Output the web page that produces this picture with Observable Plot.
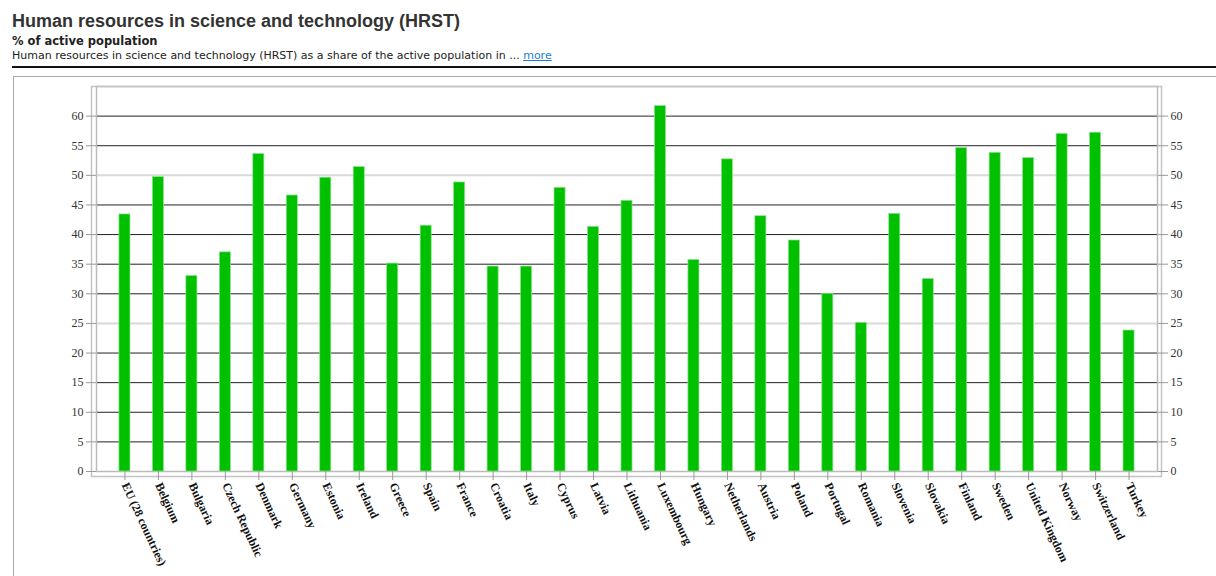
<!DOCTYPE html>
<html>
<head>
<meta charset="utf-8">
<script src="https://cdn.jsdelivr.net/npm/d3@7"></script>
<script src="https://cdn.jsdelivr.net/npm/@observablehq/plot@0.6"></script>
<style>
  html, body { margin: 0; padding: 0; background: #fff; width: 1216px; height: 576px; overflow: hidden; }
  body { position: relative; font-family: "Liberation Sans", Arial, sans-serif; color: #333; }
  #title { position: absolute; left: 12px; top: 11px; font-size: 18px; font-weight: bold; line-height: 20px; white-space: nowrap; }
  #subtitle { position: absolute; left: 12px; top: 34px; font-family: "DejaVu Sans", sans-serif; font-size: 11.5px; font-weight: bold; line-height: 14px; color: #222; white-space: nowrap; }
  #desc { position: absolute; left: 12px; top: 49px; font-family: "DejaVu Sans", sans-serif; font-size: 11px; line-height: 14px; color: #222; white-space: nowrap; }
  #desc a { color: #1a7fd0; text-decoration: underline; }
  #rule { position: absolute; left: 12px; top: 66px; width: 1204px; height: 0; border-top: 2px solid #111; }
  #box { position: absolute; left: 13px; top: 76px; width: 1220px; height: 520px; border: 1px solid #aaa; box-sizing: border-box; }
  #chart { position: absolute; left: 0; top: 76px; }
</style>
</head>
<body>
<div id="title">Human resources in science and technology (HRST)</div>
<div id="subtitle">% of active population</div>
<div id="desc">Human resources in science and technology (HRST) as a share of the active population in ... <a href="#">more</a></div>
<div id="rule"></div>
<div id="box"></div>
<div id="chart"></div>
<script>
const categories = ["EU (28 countries)", "Belgium", "Bulgaria", "Czech Republic", "Denmark", "Germany", "Estonia", "Ireland", "Greece", "Spain", "France", "Croatia", "Italy", "Cyprus", "Latvia", "Lithuania", "Luxembourg", "Hungary", "Netherlands", "Austria", "Poland", "Portugal", "Romania", "Slovenia", "Slovakia", "Finland", "Sweden", "United Kingdom", "Norway", "Switzerland", "Turkey"];
const values = [43.4, 49.7, 33.0, 37.0, 53.6, 46.6, 49.6, 51.4, 35.1, 41.5, 48.8, 34.6, 34.6, 47.9, 41.3, 45.7, 61.7, 35.7, 52.7, 43.1, 39.0, 30.0, 25.1, 43.5, 32.5, 54.6, 53.8, 52.9, 57.0, 57.2, 23.8];
const yTicks = [0, 5, 10, 15, 20, 25, 30, 35, 40, 45, 50, 55, 60];
const darkGrid = [5, 10, 15, 20, 30, 35, 40, 45, 55, 60];
const lightGrid = [25, 50];

const data = categories.map((c, i) => ({country: c, value: values[i]}));

const chart = Plot.plot({
  width: 1216,
  height: 500,
  marginLeft: 96,
  marginRight: 59,
  marginTop: 10,
  marginBottom: 105,
  style: {background: "transparent", fontFamily: "'Liberation Serif', 'Times New Roman', serif"},
  x: {domain: categories, paddingInner: 0.67, paddingOuter: 0.685, round: false, label: null},
  y: {domain: [0, 65], label: null},
  marks: [
    Plot.ruleY(lightGrid, {stroke: "#d9d9d9", strokeWidth: 2}),
    Plot.ruleY(darkGrid, {stroke: "#222", strokeWidth: 1}),
    Plot.frame({stroke: "#bbb", strokeWidth: 1.5}),
    Plot.frame({stroke: "#c4c4c4", strokeWidth: 1.5, insetLeft: -5, insetRight: -4, insetBottom: -5}),
    Plot.barY(data, {x: "country", y: "value", fill: "#00c000", stroke: "#8be38b", strokeWidth: 0.7}),
    Plot.axisY({anchor: "left", ticks: yTicks, tickSize: 10, tickPadding: 3, stroke: "#999", fill: "#333", fontSize: 12, label: null}),
    Plot.axisY({anchor: "right", ticks: yTicks, tickSize: 10, tickPadding: 3, stroke: "#999", fill: "#333", fontSize: 12, label: null}),
    Plot.axisX({anchor: "bottom", tickSize: 9, tickPadding: 3, tickRotate: 65, stroke: "#999", fill: "#111", fontSize: 12, fontWeight: "bold", label: null})
  ]
});
document.getElementById("chart").appendChild(chart);
</script>
</body>
</html>
